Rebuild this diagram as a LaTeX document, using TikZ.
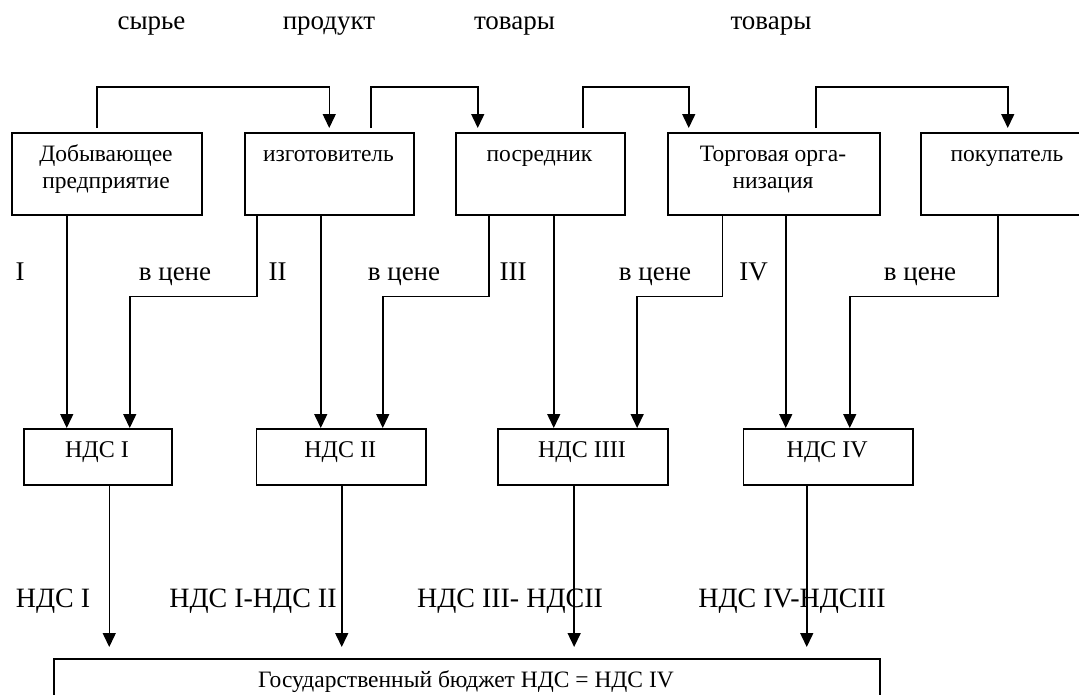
\documentclass[tikz,border=0pt]{standalone}
\usepackage{fontspec}
\setmainfont{Liberation Serif}
\usetikzlibrary{arrows.meta}
\begin{document}
\begin{tikzpicture}[x=1pt,y=-1pt,
  box/.style={draw, line width=1.5pt, inner sep=0pt, anchor=north west},
  conn/.style={line width=1.5pt},
  arr/.style={conn, -{Triangle[length=14pt,width=13pt]}},
  toplab/.style={anchor=base, inner sep=0pt, font=\fontsize{27}{30}\selectfont},
  boxtxt/.style={anchor=base, inner sep=0pt, font=\fontsize{23.5}{27}\selectfont},
  midlab/.style={anchor=base, inner sep=0pt, font=\fontsize{27}{30}\selectfont},
  ndstxt/.style={anchor=base, inner sep=0pt, font=\fontsize{24}{28}\selectfont},
  botlab/.style={anchor=base, inner sep=0pt, font=\fontsize{28}{32}\selectfont},
  budtxt/.style={anchor=base, inner sep=0pt, font=\fontsize{23.5}{27}\selectfont}]
\useasboundingbox (0,0) rectangle (1079,694);
\begin{scope}
\clip (0,0) rectangle (1079,694);
% top labels
\node[toplab] (l1) at (151.5,29) {сырье};
\node[toplab] (l2) at (329,29) {продукт};
\node[toplab] (l3) at (514.5,29) {товары};
\node[toplab] (l4) at (771,29) {товары};
% top boxes
\node[box, minimum width=190pt, minimum height=82pt] (b1) at (11,132) {};
\node[box, minimum width=169pt, minimum height=82pt] (b2) at (244,132) {};
\node[box, minimum width=169pt, minimum height=82pt] (b3) at (455,132) {};
\node[box, minimum width=212pt, minimum height=82pt] (b4) at (667,132) {};
\node[box, minimum width=174pt, minimum height=82pt] (b5) at (920,132) {};
\node[boxtxt] (t1a) at (106,161) {Добывающее};
\node[boxtxt] (t1b) at (106,188) {предприятие};
\node[boxtxt] (t2) at (328.5,161) {изготовитель};
\node[boxtxt] (t3) at (539.5,161) {посредник};
\node[boxtxt] (t4a) at (773,161) {Торговая орга-};
\node[boxtxt] (t4b) at (773,188) {низация};
\node[boxtxt] (t5) at (1007,161) {покупатель};
% NDS boxes
\node[box, minimum width=148pt, minimum height=56pt] (n1) at (23,428) {};
\node[box, minimum width=169.5pt, minimum height=56pt] (n2) at (255.5,428) {};
\node[box, minimum width=170pt, minimum height=56pt] (n3) at (497,428) {};
\node[box, minimum width=169.5pt, minimum height=56pt] (n4) at (742.5,428) {};
\node[ndstxt] (nt1) at (97,457) {НДС I};
\node[ndstxt] (nt2) at (340.25,457) {НДС II};
\node[ndstxt] (nt3) at (582,457) {НДС IIII};
\node[ndstxt] (nt4) at (827.25,457) {НДС IV};
% budget box
\node[box, minimum width=826pt, minimum height=62pt] (bud) at (53,658) {};
\node[budtxt] (budt) at (466,687) {Государственный бюджет НДС = НДС IV};
% top loops
\draw[arr] ([xshift=-10pt,yshift=4pt]b1.north) -- ++(0,-41) -| ([yshift=4pt]b2.north);
\draw[arr] ([xshift=41.5pt,yshift=4pt]b2.north) -- ++(0,-41) -| ([xshift=-62.5pt,yshift=4pt]b3.north);
\draw[arr] ([xshift=42.5pt,yshift=4pt]b3.north) -- ++(0,-41) -| ([xshift=-85pt,yshift=4pt]b4.north);
\draw[arr] ([xshift=42pt,yshift=4pt]b4.north) -- ++(0,-41) -| ([yshift=4pt]b5.north);
% middle connectors
\draw[arr] ([xshift=-40pt]b1.south) -- ([xshift=-40pt]b1.south |- n1.north);
\draw[arr] ([xshift=-72.5pt]b2.south) -- ++(0,81) -| ([xshift=32pt]n1.north);
\draw[arr] ([xshift=-8.5pt]b2.south) -- ([xshift=-8.5pt]b2.south |- n2.north);
\draw[arr] ([xshift=-51.5pt]b3.south) -- ++(0,81) -| ([xshift=41.75pt]n2.north);
\draw[arr] ([xshift=13.5pt]b3.south) -- ([xshift=13.5pt]b3.south |- n3.north);
\draw[arr] ([xshift=-51.5pt]b4.south) -- ++(0,81) -| ([xshift=54.4pt]n3.north);
\draw[arr] ([xshift=12pt]b4.south) -- ([xshift=12pt]b4.south |- n4.north);
\draw[arr] ([xshift=-10pt]b5.south) -- ++(0,81) -| ([xshift=21.75pt]n4.north);
% middle labels
\node[midlab] (m1) at (20,280) {I};
\node[midlab] (m2) at (175,280) {в цене};
\node[midlab] (m3) at (277.5,280) {II};
\node[midlab] (m4) at (404,280) {в цене};
\node[midlab] (m5) at (513,280) {III};
\node[midlab] (m6) at (655,280) {в цене};
\node[midlab] (m7) at (753.5,280) {IV};
\node[midlab] (m8) at (920,280) {в цене};
% bottom labels
\node[botlab] (p1) at (53,607) {НДС I};
\node[botlab] (p2) at (253,607) {НДС I-НДС II};
\node[botlab] (p3) at (510,607) {НДС III- НДСII};
\node[botlab] (p4) at (792,607) {НДС IV-НДСIII};
% bottom connectors
\draw[arr, shorten >=11pt] ([xshift=11.5pt]n1.south) -- ([xshift=11.5pt]n1.south |- bud.north);
\draw[arr, shorten >=11pt] ([xshift=0.75pt]n2.south) -- ([xshift=0.75pt]n2.south |- bud.north);
\draw[arr, shorten >=11pt] ([xshift=-8.6pt]n3.south) -- ([xshift=-8.6pt]n3.south |- bud.north);
\draw[arr, shorten >=11pt] ([xshift=-21.25pt]n4.south) -- ([xshift=-21.25pt]n4.south |- bud.north);
\end{scope}
\end{tikzpicture}
\end{document}
